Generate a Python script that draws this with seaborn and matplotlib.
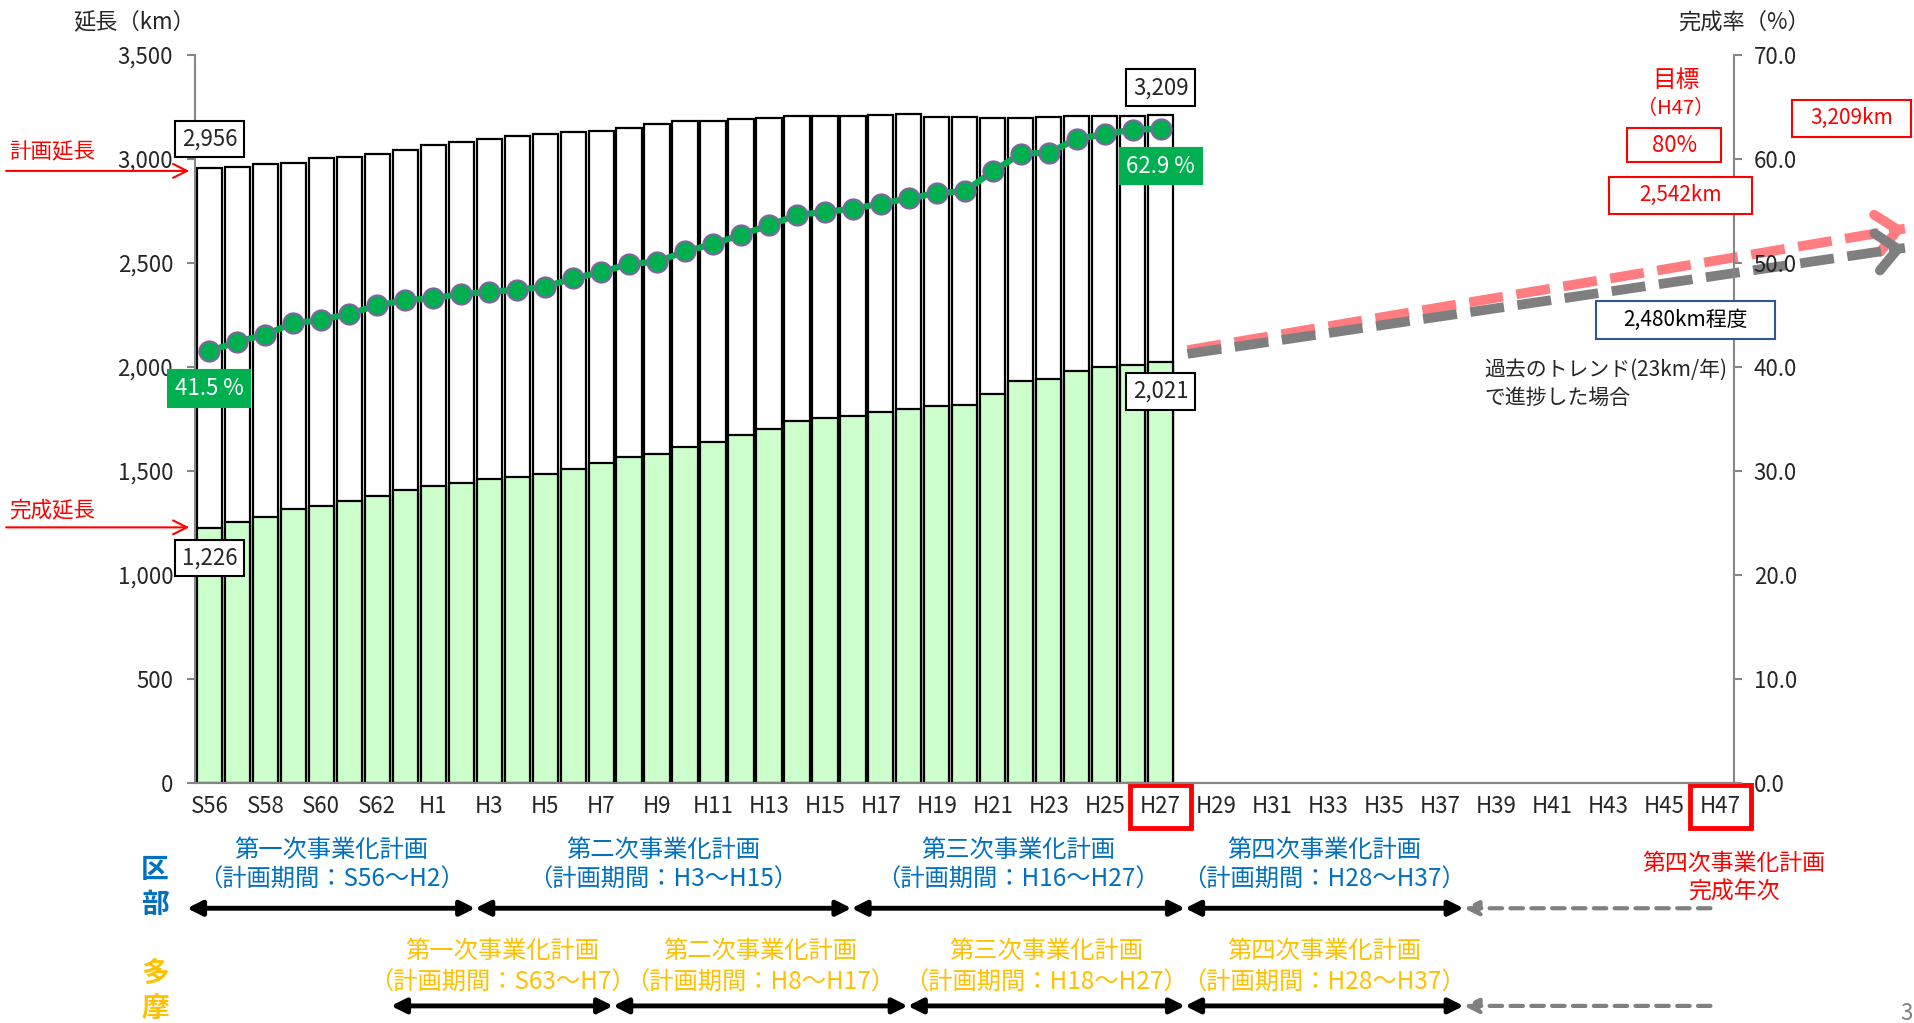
import numpy as np
import pandas as pd
import matplotlib
matplotlib.use("Agg")
import matplotlib.pyplot as plt
import seaborn as sns
from matplotlib.patches import Rectangle
from matplotlib.ticker import FuncFormatter

sns.set_style("white")
plt.rcParams["font.family"] = ["Noto Sans CJK JP", "DejaVu Sans"]
plt.rcParams["axes.unicode_minus"] = False

# 年度 S56〜H47
years = [f"S{i}" for i in range(56, 64)] + [f"H{i}" for i in range(1, 48)]

# 計画延長 / 完成延長 (km)  S56〜H27
planned_km = [2956, 2963, 2976, 2981, 3003, 3011, 3022, 3043, 3069, 3083,
              3098, 3109, 3120, 3128, 3136, 3150, 3168, 3182, 3182, 3190,
              3197, 3206, 3206, 3208, 3210, 3214, 3202, 3202, 3198, 3198,
              3200, 3206, 3206, 3208, 3209]
completed_km = [1226, 1251, 1279, 1315, 1330, 1354, 1380, 1409, 1426, 1442,
                1460, 1470, 1484, 1510, 1535, 1566, 1580, 1615, 1638, 1674,
                1701, 1740, 1753, 1762, 1780, 1796, 1809, 1817, 1871, 1931,
                1939, 1979, 1997, 2010, 2021]
# 完成率 (%)
rate_pct = [41.5, 42.4, 43.1, 44.2, 44.5, 45.1, 45.9, 46.4, 46.6, 47.0,
            47.2, 47.4, 47.7, 48.5, 49.1, 49.9, 50.1, 51.1, 51.8, 52.7,
            53.6, 54.6, 54.9, 55.2, 55.7, 56.2, 56.7, 56.9, 58.8, 60.5,
            60.6, 61.9, 62.4, 62.8, 62.9]

# 将来の進捗イメージ (模式矢印)
trend_x = [34.96, 60.6]
trend_target_y = [2080, 2665]
trend_past_y = [2062, 2572]

# 下段: 事業化計画の期間 (x位置)
kubu_edges = [-0.8, 9.5, 22.95, 34.87, 44.83]
tama_edges = [6.49, 14.43, 24.96, 34.87, 44.83]
dash_end = 53.65
kubu_plans = [("第一次事業化計画", "（計画期間：S56～H2）"),
              ("第二次事業化計画", "（計画期間：H3～H15）"),
              ("第三次事業化計画", "（計画期間：H16～H27）"),
              ("第四次事業化計画", "（計画期間：H28～H37）")]
tama_plans = [("第一次事業化計画", "（計画期間：S63～H7）"),
              ("第二次事業化計画", "（計画期間：H8～H17）"),
              ("第三次事業化計画", "（計画期間：H18～H27）"),
              ("第四次事業化計画", "（計画期間：H28～H37）")]

df = pd.DataFrame({"年度": years[:len(planned_km)],
                   "計画延長": planned_km,
                   "完成延長": completed_km})

W, H = 1568, 838  # layout measured on the reduced picture


def fx(x):
    return x / W


def fy(y):
    return 1 - y / H


fig = plt.figure(figsize=(19.15, 10.23), dpi=100)
ax = fig.add_axes([fx(160), fy(641), fx(1420) - fx(160), fy(45) - fy(641)])

sns.barplot(data=df, x="年度", y="計画延長", order=years, color="white",
            edgecolor="black", linewidth=1.6, width=0.9, saturation=1,
            errorbar=None, ax=ax)
sns.barplot(data=df, x="年度", y="完成延長", order=years, color="#CCFFCC",
            edgecolor="black", linewidth=1.6, width=0.9, saturation=1,
            errorbar=None, ax=ax)

ax2 = ax.twinx()
sns.lineplot(x=np.arange(len(rate_pct)), y=rate_pct, ax=ax2, color="#00B050",
             linewidth=4.5, marker="o", markersize=14.5,
             markerfacecolor="#00B050", markeredgecolor="#8064A2",
             markeredgewidth=1.5)

ax.set_xlim(-0.5, len(years) - 0.5)
ax.set_ylim(0, 3500)
ax2.set_ylim(0, 70)
ax.set_xlabel("")
ax.set_ylabel("")
ax2.set_ylabel("")

ax.set_xticks(np.arange(0, len(years), 2))
ax.set_xticklabels(years[::2], fontsize=16)
ax.set_xticks(np.arange(-0.5, len(years), 1), minor=True)
ax.tick_params(axis="x", which="major", length=0, pad=9)
ax.tick_params(axis="x", which="minor", length=8, color="#868686", width=1.5)
for lbl in ax.get_xticklabels():
    if lbl.get_text() in ("H27", "H47"):
        lbl.set_bbox(dict(boxstyle="square,pad=0.45", fc="none", ec="red", lw=3.5))

ax.set_yticks(np.arange(0, 3501, 500))
ax.yaxis.set_major_formatter(FuncFormatter(lambda v, p: f"{v:,.0f}"))
ax.tick_params(axis="y", length=6, color="#868686", width=1.5, pad=10, labelsize=16)
ax2.set_yticks(np.arange(0, 71, 10))
ax2.yaxis.set_major_formatter(FuncFormatter(lambda v, p: f"{v:.1f}"))
ax2.tick_params(axis="y", length=6, color="#868686", width=1.5, pad=8, labelsize=16)

for a in (ax, ax2):
    for s in a.spines.values():
        s.set_color("#868686")
        s.set_linewidth(1.5)
    a.spines["top"].set_visible(False)
ax.spines["right"].set_visible(False)
ax2.spines["left"].set_visible(False)

fig.text(fx(110), fy(18), "延長（km）", fontsize=16, ha="center", va="center")
fig.text(fx(1428), fy(18), "完成率（%）", fontsize=16, ha="center", va="center")

# value labels
box_w = dict(boxstyle="square,pad=0.3", fc="white", ec="black", lw=1.5)
box_g = dict(boxstyle="square,pad=0.3", fc="#00B050", ec="#00B050", lw=1.5)
last = len(planned_km) - 1
for i, val, dy in [(0, planned_km[0], 21), (0, completed_km[0], -22),
                   (last, planned_km[last], 20), (last, completed_km[last], -21)]:
    ax2.annotate(f"{val:,}", xy=(i, val), xycoords=ax.transData,
                 xytext=(0, dy), textcoords="offset points", ha="center",
                 va="center", fontsize=16, bbox=box_w, zorder=6)
for i in (0, last):
    ax2.annotate(f"{rate_pct[i]:.1f} %", xy=(i, rate_pct[i]), xytext=(0, -27),
                 textcoords="offset points", ha="center", va="center",
                 fontsize=16, color="white", bbox=box_g, zorder=6)

# left red arrows
for label, ty, ay in [("計画延長", 125, 140), ("完成延長", 418, 432)]:
    fig.text(fx(43), fy(ty), label, color="red", fontsize=15.5, ha="center", va="center")
    ax.annotate("", xy=(fx(155), fy(ay)), xytext=(fx(5), fy(ay)),
                xycoords="figure fraction", annotation_clip=False,
                arrowprops=dict(arrowstyle="->", color="red", lw=1.5,
                                mutation_scale=25, shrinkA=0, shrinkB=0))

# trend arrows
for ys, col in [(trend_target_y, "#FF7C80"), (trend_past_y, "#7F7F7F")]:
    ax.plot(trend_x, ys, color=col, lw=7, ls=(0, (3.5, 1.4)), clip_on=False,
            zorder=5, dash_capstyle="butt")
    slope = (ys[1] - ys[0]) / (trend_x[1] - trend_x[0])
    ax.annotate("", xy=(trend_x[1], ys[1]),
                xytext=(trend_x[1] - 0.4, ys[1] - 0.4 * slope),
                annotation_clip=False, zorder=5,
                arrowprops=dict(arrowstyle="->,head_length=0.5,head_width=0.45",
                                color=col, lw=7, mutation_scale=30,
                                shrinkA=0, shrinkB=0))


def boxed(cx, cy, w, h, text, tc, ec, size=15):
    fig.add_artist(Rectangle((fx(cx - w / 2), fy(cy + h / 2)), w / W, h / H,
                             transform=fig.transFigure, fc="white", ec=ec, lw=1.5))
    fig.text(fx(cx), fy(cy), text, color=tc, fontsize=size, ha="center", va="center")


fig.text(fx(1372), fy(66), "目標", color="red", fontsize=17, ha="center", va="center")
fig.text(fx(1372), fy(89), "（H47）", color="red", fontsize=14.5, ha="center", va="center")
boxed(1371, 119, 77, 28, "80%", "red", "red", 16)
boxed(1376, 160, 117, 30, "2,542km", "red", "red")
boxed(1516, 97, 98, 30, "3,209km", "red", "red")
boxed(1380, 262, 146, 31, "2,480km程度", "black", "#2F5597")
fig.text(fx(1215), fy(303), "過去のトレンド(23km/年)", fontsize=15, ha="left", va="center")
fig.text(fx(1215), fy(326), "で進捗した場合", fontsize=15, ha="left", va="center")

# lower part: plan periods
fig.text(fx(127), fy(727), "区\n部", color="#0070C0", fontsize=20, fontweight="bold",
         ha="center", va="center", linespacing=1.3)
fig.text(fx(127), fy(812), "多\n摩", color="#FFC000", fontsize=20, fontweight="bold",
         ha="center", va="center", linespacing=1.3)

for edges, plans, col, y1, y2, ya in [
        (kubu_edges, kubu_plans, "#0070C0", 696, 721, 744),
        (tama_edges, tama_plans, "#FFC000", 779, 805, 824)]:
    for k, (t1, t2) in enumerate(plans):
        mid = (edges[k] + edges[k + 1]) / 2
        for txt, yy in ((t1, y1), (t2, y2)):
            ax.annotate(txt, xy=(mid, fy(yy)), xycoords=("data", "figure fraction"),
                        ha="center", va="center", fontsize=17.5, color=col,
                        annotation_clip=False)
        ax.annotate("", xy=(edges[k + 1], fy(ya)), xytext=(edges[k], fy(ya)),
                    xycoords=("data", "figure fraction"), annotation_clip=False,
                    arrowprops=dict(arrowstyle="<|-|>", color="black", lw=3.5,
                                    mutation_scale=22, shrinkA=0, shrinkB=0))
    ax.annotate("", xy=(edges[-1], fy(ya)), xytext=(dash_end, fy(ya)),
                xycoords=("data", "figure fraction"), annotation_clip=False,
                arrowprops=dict(arrowstyle="-|>", color="#808080", lw=3,
                                linestyle=(0, (3, 2)), mutation_scale=22,
                                shrinkA=0, shrinkB=0))

fig.text(fx(1420), fy(707), "第四次事業化計画", color="red", fontsize=16.5, ha="center", va="center")
fig.text(fx(1420), fy(731), "完成年次", color="red", fontsize=16.5, ha="center", va="center")
fig.text(fx(1556), fy(830), "3", color="#808080", fontsize=16, ha="left", va="center")

fig.savefig("out.png", dpi=100)
